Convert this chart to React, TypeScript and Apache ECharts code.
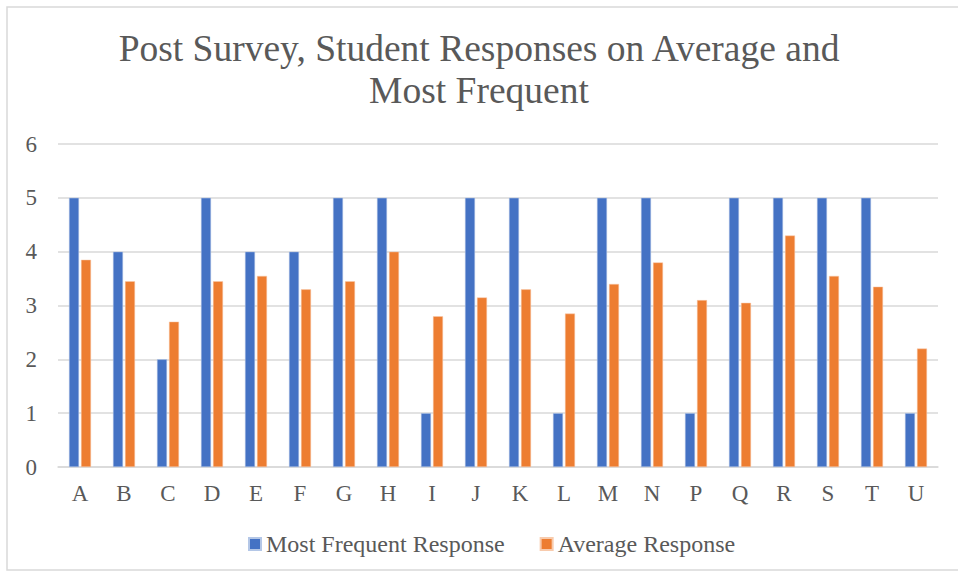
import React, { useEffect, useRef } from "react";
import * as echarts from "echarts";

const categories = ["A", "B", "C", "D", "E", "F", "G", "H", "I", "J", "K", "L", "M", "N", "P", "Q", "R", "S", "T", "U"];
const mostFrequent = [5, 4, 2, 5, 4, 4, 5, 5, 1, 5, 5, 1, 5, 5, 1, 5, 5, 5, 5, 1];
const averageResponse = [3.85, 3.45, 2.7, 3.45, 3.55, 3.3, 3.45, 4.0, 2.8, 3.15, 3.3, 2.85, 3.4, 3.8, 3.1, 3.05, 4.3, 3.55, 3.35, 2.2];
const seriesNames = ["Most Frequent Response", "Average Response"];
const titleText = "Post Survey, Student Responses on Average and\nMost Frequent";

const FONT = "'Liberation Serif', 'Times New Roman', serif";

export default function App() {
  const ref = useRef<HTMLDivElement>(null);
  useEffect(() => {
    if (!ref.current) return;
    const chart = echarts.init(ref.current, null, { renderer: "svg" });
    chart.setOption({
      animation: false,
      backgroundColor: "#ffffff",
      textStyle: { fontFamily: FONT },
      title: {
        text: titleText,
        left: "center",
        top: 22,
        textStyle: {
          fontFamily: FONT,
          fontSize: 37.5,
          fontWeight: "normal",
          color: "#595959",
          lineHeight: 42,
        },
      },
      graphic: [
        {
          type: "rect",
          shape: { x: 7, y: 7, width: 980, height: 563 },
          style: { fill: "none", stroke: "#D9D9D9", lineWidth: 1.5 },
          silent: true,
          z: -1,
        },
      ],
      legend: {
        top: 527,
        left: 243,
        itemWidth: 12,
        itemHeight: 12,
        itemGap: 35,
        icon: "rect",
        textStyle: { fontFamily: FONT, fontSize: 24, color: "#595959" },
        data: seriesNames,
      },
      grid: { left: 58, right: 20, top: 144, bottom: 112, containLabel: false },
      xAxis: {
        type: "category",
        data: categories,
        axisLine: { show: true, lineStyle: { color: "#D9D9D9", width: 1.5 } },
        axisTick: { show: false },
        axisLabel: { fontFamily: FONT, fontSize: 23, color: "#595959", margin: 15 },
      },
      yAxis: {
        type: "value",
        min: 0,
        max: 6,
        interval: 1,
        axisLine: { show: false },
        axisTick: { show: false },
        axisLabel: { fontFamily: FONT, fontSize: 23, color: "#595959", margin: 21 },
        splitLine: { lineStyle: { color: "#D9D9D9", width: 1.5 } },
      },
      series: [
        {
          name: seriesNames[0],
          type: "bar",
          data: mostFrequent,
          barWidth: 10,
          barGap: "20%",
          itemStyle: { color: "#4472C4", borderColor: "#B4C7E7", borderWidth: 0.5 },
        },
        {
          name: seriesNames[1],
          type: "bar",
          data: averageResponse,
          barWidth: 10,
          barGap: "20%",
          itemStyle: { color: "#ED7D31", borderColor: "#F8CBAD", borderWidth: 0.5 },
        },
      ],
    });
    return () => chart.dispose();
  }, []);
  return (
    <div
      ref={ref}
      style={{ position: "absolute", left: 0, top: 0, width: 958, height: 579 }}
    />
  );
}
